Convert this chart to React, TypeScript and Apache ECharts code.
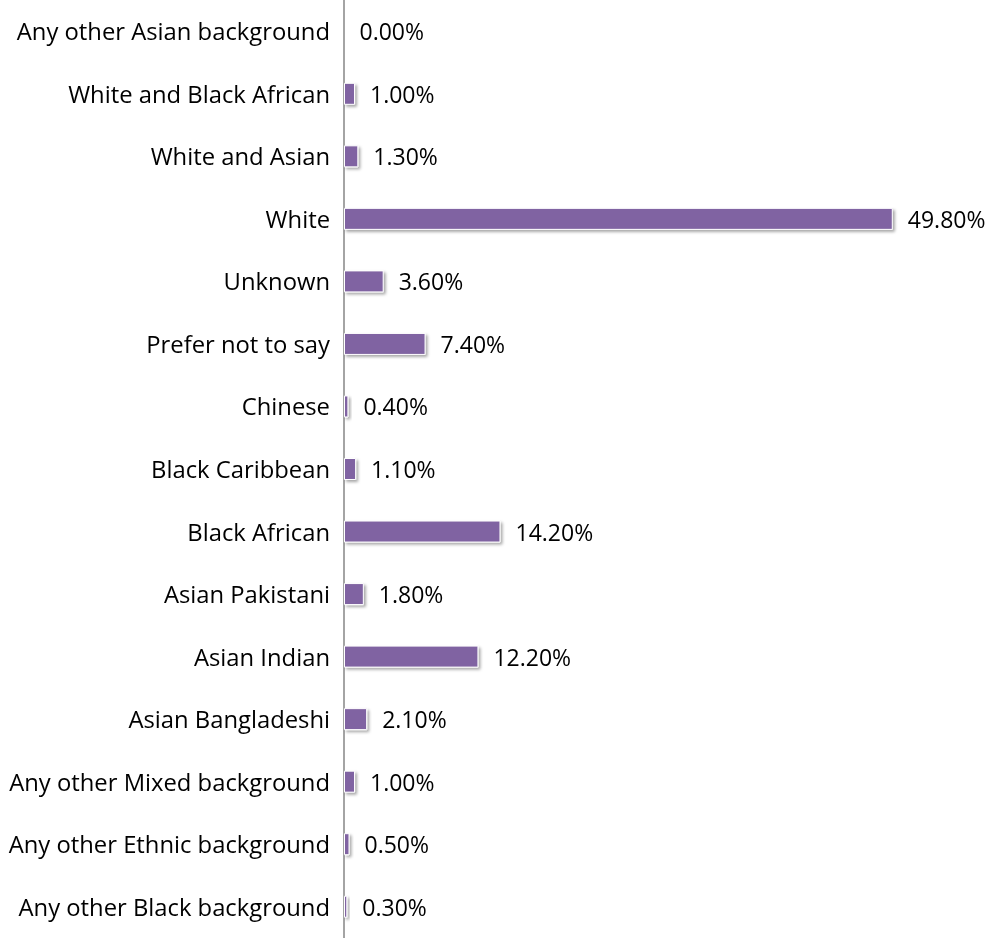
import React, { useEffect, useRef } from "react";
import * as echarts from "echarts";

const categories = [
  "Any other Black background",
  "Any other Ethnic background",
  "Any other Mixed background",
  "Asian Bangladeshi",
  "Asian Indian",
  "Asian Pakistani",
  "Black African",
  "Black Caribbean",
  "Chinese",
  "Prefer not to say",
  "Unknown",
  "White",
  "White and Asian",
  "White and Black African",
  "Any other Asian background",
];

const values = [0.3, 0.5, 1.0, 2.1, 12.2, 1.8, 14.2, 1.1, 0.4, 7.4, 3.6, 49.8, 1.3, 1.0, 0.0];

const FONT = "Open Sans";

export default function App() {
  const ref = useRef<HTMLDivElement>(null);
  useEffect(() => {
    if (!ref.current) return;
    const chart = echarts.init(ref.current, undefined, { renderer: "svg" });
    chart.setOption({
      animation: false,
      grid: { left: 344, right: 95, top: 0, bottom: 0 },
      xAxis: {
        type: "value",
        min: 0,
        max: 50,
        show: false,
      },
      yAxis: {
        type: "category",
        data: categories,
        axisLine: { show: true, lineStyle: { color: "#868686", width: 1.5 } },
        axisTick: { show: false },
        axisLabel: {
          color: "#000",
          fontFamily: FONT,
          fontSize: 23.8,
          margin: 14,
        },
        splitLine: { show: false },
      },
      series: [
        {
          type: "bar",
          data: values,
          barWidth: 22,
          itemStyle: {
            color: "#8064A2",
            borderColor: "#ffffff",
            borderWidth: 1,
            shadowColor: "rgba(0,0,0,0.35)",
            shadowBlur: 3,
            shadowOffsetX: 2,
            shadowOffsetY: 2,
          },
          label: {
            show: true,
            position: "right",
            distance: 15,
            color: "#000",
            fontFamily: FONT,
            fontSize: 23,
            formatter: (p: any) => p.value.toFixed(2) + "%",
          },
        },
      ],
    });
    return () => chart.dispose();
  }, []);
  return (
    <div
      ref={ref}
      style={{ position: "fixed", left: 0, top: 0, width: 990, height: 938 }}
    />
  );
}
